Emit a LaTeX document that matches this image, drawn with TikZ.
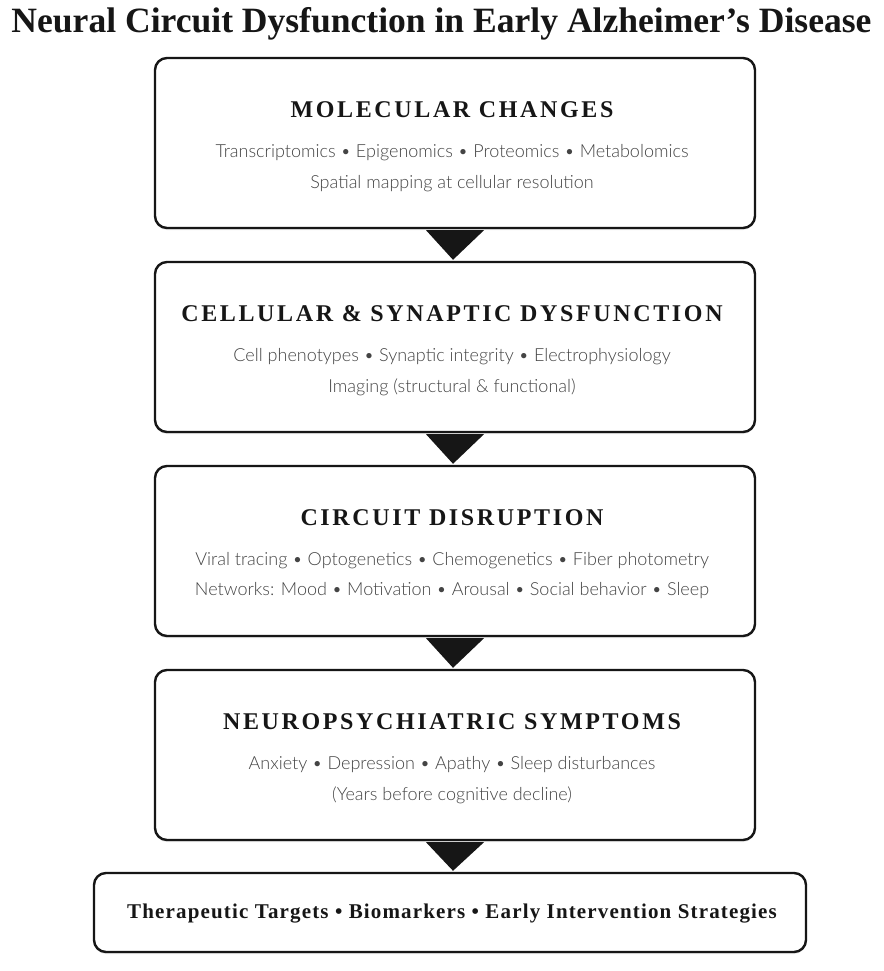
\documentclass[tikz,border=0pt]{standalone}
\usepackage{fontspec}
\setmainfont{Liberation Serif}
\newfontfamily\bodyfont{Lato Light}
\newfontfamily\headfont[LetterSpace=11]{Liberation Serif}
\newfontfamily\finalfont[LetterSpace=5.5]{Liberation Serif}
\usetikzlibrary{shadows}
\definecolor{ink}{HTML}{161616}
\definecolor{bodygray}{HTML}{444444}
\tikzset{
  stagebox/.style={draw=ink, line width=2.4pt, rounded corners=12pt, fill=white,
    minimum width=600pt, minimum height=170pt,
    drop shadow={shadow xshift=0pt, shadow yshift=-2pt, opacity=0.18}},
  finalbox/.style={draw=ink, line width=2.4pt, rounded corners=12pt, fill=white,
    minimum width=712pt, minimum height=79pt,
    drop shadow={shadow xshift=0pt, shadow yshift=-2pt, opacity=0.18}},
  headtext/.style={font=\headfont\bfseries\fontsize{24}{28}\selectfont, text=ink, inner sep=0pt},
  bodytext/.style={font=\bodyfont\fontsize{18}{22}\selectfont, text=bodygray, inner sep=0pt},
  arrowtri/.style={fill=ink, draw=none},
}
\begin{document}
\begin{tikzpicture}[x=1pt,y=-1pt]
\useasboundingbox (0,0) rectangle (883,971);
\fill[white] (0,0) rectangle (883,971);
% title
\node[inner sep=0pt, text=ink] (title) at (441.5,24)
  {\resizebox{860pt}{!}{\bfseries\fontsize{34}{40}\selectfont Neural Circuit Dysfunction in Early Alzheimer's Disease}};
% boxes
\node[stagebox] (b1) at (455,143) {};
\node[stagebox] (b2) at (455,347) {};
\node[stagebox] (b3) at (455,551) {};
\node[stagebox] (b4) at (455,755) {};
\node[finalbox] (b5) at (450,912.5) {};
% triangles
\foreach \a/\b in {b1/b2,b2/b3,b3/b4,b4/b5}{
  \fill[arrowtri] ([xshift=-29pt,yshift=-1pt]\a.south) -- ([xshift=29pt,yshift=-1pt]\a.south) -- ([xshift=-2pt,yshift=1pt]\b.north -| \a.south) -- cycle;
}
% texts
\node[headtext] (h1) at (452,110) {MOLECULAR CHANGES};
\node[bodytext] (t1a) at (452,152.5) {Transcriptomics • Epigenomics • Proteomics • Metabolomics};
\node[bodytext] (t1b) at (452,183.5) {Spatial mapping at cellular resolution};
\node[headtext] (h2) at (452,314) {CELLULAR \& SYNAPTIC DYSFUNCTION};
\node[bodytext] (t2a) at (452,356.5) {Cell phenotypes • Synaptic integrity • Electrophysiology};
\node[bodytext] (t2b) at (452,387.5) {Imaging (structural \& functional)};
\node[headtext] (h3) at (452,518) {CIRCUIT DISRUPTION};
\node[bodytext] (t3a) at (452,560.5) {Viral tracing • Optogenetics • Chemogenetics • Fiber photometry};
\node[bodytext] (t3b) at (452,590.5) {Networks: Mood • Motivation • Arousal • Social behavior • Sleep};
\node[headtext] (h4) at (452,722) {NEUROPSYCHIATRIC SYMPTOMS};
\node[bodytext] (t4a) at (452,764.5) {Anxiety • Depression • Apathy • Sleep disturbances};
\node[bodytext] (t4b) at (452,795.5) {(Years before cognitive decline)};
\node[inner sep=0pt, text=ink, font=\finalfont\bfseries\fontsize{21}{24}\selectfont] (t5) at (452,914)
  {Therapeutic Targets • Biomarkers • Early Intervention Strategies};
\end{tikzpicture}
\end{document}
